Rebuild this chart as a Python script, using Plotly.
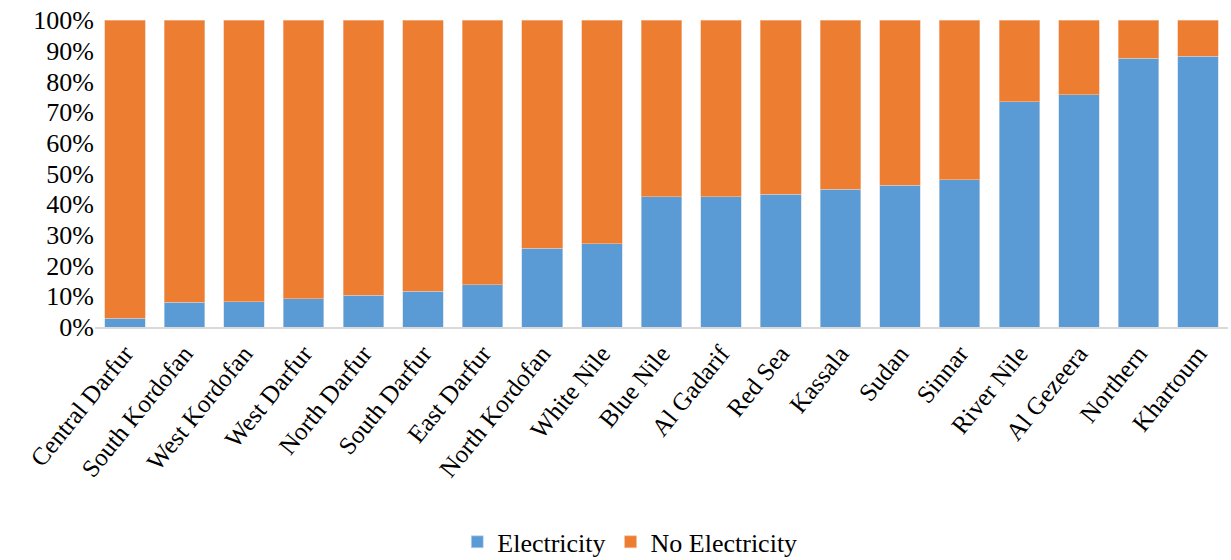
import plotly.graph_objects as go

regions = ["Central Darfur", "South Kordofan", "West Kordofan", "West Darfur", "North Darfur",
           "South Darfur", "East Darfur", "North Kordofan", "White Nile", "Blue Nile",
           "Al Gadarif", "Red Sea", "Kassala", "Sudan", "Sinnar", "River Nile",
           "Al Gezeera", "Northern", "Khartoum"]
electricity = [2.8, 8.0, 8.3, 9.2, 10.3, 11.6, 13.7, 25.7, 27.1, 42.5,
               42.5, 43.2, 44.8, 46.2, 48.0, 73.4, 75.7, 87.6, 88.2]
no_electricity = [100 - v for v in electricity]

font = "Liberation Serif"

fig = go.Figure()
fig.add_trace(go.Bar(x=regions, y=[v / 100 for v in electricity], name="Electricity",
                     marker=dict(color="#5B9BD5", line=dict(color="#c9d8ea", width=0.6))))
fig.add_trace(go.Bar(x=regions, y=[v / 100 for v in no_electricity], name="No Electricity",
                     marker=dict(color="#ED7D31", line=dict(color="#f2c2a4", width=0.6))))

fig.update_layout(
    barmode="stack",
    bargap=0.32,
    width=1231, height=560,
    margin=dict(l=95, r=3, t=20, b=233, autoexpand=False),
    paper_bgcolor="white", plot_bgcolor="white",
    font=dict(family=font, size=24, color="#000000"),
    showlegend=True,
    legend=dict(orientation="h", x=0.472, xanchor="center", y=-0.70, yanchor="middle",
                font=dict(family=font, size=26, color="#000000"), itemwidth=30,
                traceorder="normal"),
    xaxis=dict(tickangle=-51, tickfont=dict(family=font, size=25, color="#000000"),
               showline=True, linecolor="#d9d9d9", linewidth=2, showgrid=False, ticks="",
               automargin=False),
    yaxis=dict(range=[0, 1], tickformat=".0%", dtick=0.1, showgrid=False, showline=False,
               tickfont=dict(family=font, size=26, color="#000000"), ticks="",
               zeroline=False, automargin=False),
)

fig.write_html("out.html")
